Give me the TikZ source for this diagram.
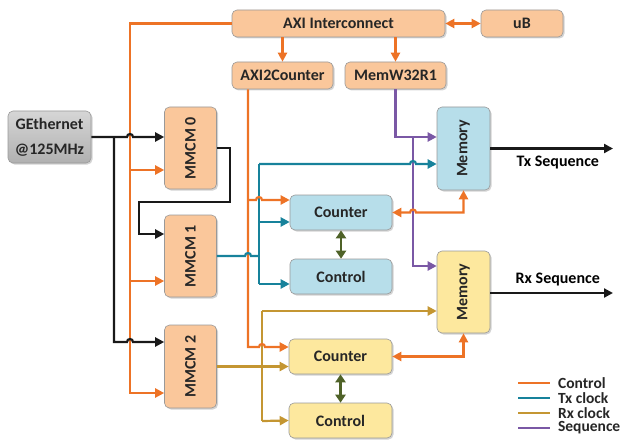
\documentclass[tikz,border=0pt]{standalone}
\usepackage{fontspec}
\setmainfont{Carlito}
\usetikzlibrary{arrows.meta,shadows}

\definecolor{ctrlc}{RGB}{237,115,38}
\definecolor{txc}{RGB}{23,130,155}
\definecolor{rxc}{RGB}{196,150,50}
\definecolor{seqc}{RGB}{122,88,165}
\definecolor{linkc}{RGB}{79,98,40}
\definecolor{peachc}{RGB}{250,199,155}
\definecolor{bluec}{RGB}{183,222,234}
\definecolor{yellowc}{RGB}{253,232,158}
\definecolor{greyc}{RGB}{196,196,196}
\definecolor{textc}{RGB}{38,38,38}

\def\ux{1pt}
\def\uy{-1pt}

\tikzset{
  box/.style={draw=black!40, line width=0.6pt, rounded corners=5pt, inner sep=0pt,
    text=textc, drop shadow={shadow xshift=1.5pt,shadow yshift=-1.5pt,opacity=0.35}},
  peach/.style={box, fill=peachc},
  bluebox/.style={box, fill=bluec},
  yellowbox/.style={box, fill=yellowc},
  greybox/.style={box, top color=greyc!70, bottom color=greyc!90!black, align=center,
    font=\bfseries\fontsize{16}{25}\selectfont},
  bridge/.style={insert path={arc[start angle=180,end angle=0,radius=3pt]}},
  blk/.style={draw=black!90},
  ctrl/.style={draw=ctrlc},
  tx/.style={draw=txc},
  rx/.style={draw=rxc},
  seq/.style={draw=seqc},
  link/.style={draw=linkc, >={Triangle[length=8pt,width=10pt]}},
  legend/.style={anchor=west, inner sep=0pt, text=textc, font=\bfseries\fontsize{15.5}{15}\selectfont}
}

\begin{document}
\begin{tikzpicture}[x=\ux,y=\uy, font=\bfseries\fontsize{16}{18}\selectfont,
    line width=2.2pt, >={Triangle[length=9pt,width=9pt]}]
  \useasboundingbox (0,0) rectangle (623,441);

  \node[peach, minimum width=213pt, minimum height=27pt] (axi) at (338.5,23.5) {AXI Interconnect};
  \node[peach, minimum width=82pt, minimum height=27pt] (ub) at (522,23.5) {uB};
  \node[peach, minimum width=101pt, minimum height=27pt] (a2c) at (282.5,75.5) {AXI2Counter};
  \node[peach, minimum width=101pt, minimum height=27pt] (mem32) at (395.5,75.5) {MemW32R1};
  \node[greybox, minimum width=83pt, minimum height=52pt] (geth) at (49.5,137) {GEthernet\\@125MHz};
  \node[peach, minimum width=52pt, minimum height=82pt] (mmcm0) at (190.5,148) {\rotatebox{90}{MMCM 0}};
  \node[peach, minimum width=52pt, minimum height=82pt] (mmcm1) at (190.5,256) {\rotatebox{90}{MMCM 1}};
  \node[peach, minimum width=52pt, minimum height=83pt] (mmcm2) at (190.5,366.5) {\rotatebox{90}{MMCM 2}};
  \node[bluebox, minimum width=53pt, minimum height=83pt] (memtx) at (463.5,148.5) {\rotatebox{90}{Memory}};
  \node[yellowbox, minimum width=53pt, minimum height=82pt] (memrx) at (463.5,292) {\rotatebox{90}{Memory}};
  \node[bluebox, minimum width=102pt, minimum height=35pt] (cnttx) at (341,212.5) {Counter};
  \node[bluebox, minimum width=102pt, minimum height=35pt] (ctltx) at (341,276.5) {Control};
  \node[yellowbox, minimum width=103pt, minimum height=35pt] (cntrx) at (340.5,356.5) {Counter};
  \node[yellowbox, minimum width=103pt, minimum height=35pt] (ctlrx) at (340.5,420.5) {Control};

  \coordinate (trunk) at (130,393);
  \coordinate (txout) at (613,148.5);
  \coordinate (rxout) at (613,293);

  \draw[ctrl,->] (axi.west) -| (trunk) -- (trunk -| mmcm2.west);
  \draw[ctrl,->] (130,170) -- (0,170 -| mmcm0.west);
  \draw[ctrl,->] (130,281) -- (0,281 -| mmcm1.west);
  \draw[ctrl,->] (axi.south -| a2c.north) -- (a2c.north);
  \draw[ctrl,->] (axi.south -| mem32.north) -- (mem32.north);
  \draw[ctrl,<->] (axi.east) -- (ub.west);

  \draw[tx] (259,164) -- (259,284);
  \draw[rx] (262,311) -- (262,421);
  \draw[seq,->] (mem32.south) |- (0,137 -| memtx.west);
  \draw[seq,->] (413,137) |- (0,266 -| memrx.west);

  \draw[blk,->] (geth.east) -- (127,137) [bridge] -- (0,137 -| mmcm0.west);
  \draw[blk,->] (114,137) -- (114,342) -- (127,342) [bridge] -- (0,342 -| mmcm2.west);
  \draw[blk,->] (mmcm0.east) -| (230,202) -| (139,234) -- (0,234 -| mmcm1.west);

  \draw[ctrl,->] (a2c.south -| 248,0) -- (248,347) -- (259,347) [bridge] -- (0,347 -| cntrx.west);
  \draw[ctrl,->] (248,200) -- (256,200) [bridge] -- (0,200 -| cnttx.west);
  \draw[ctrl,<->] (cnttx.east) -- (410,212.5) [bridge] -| (memtx.south);
  \draw[ctrl,<->] (cntrx.east) -| (memrx.south);

  \draw[tx] (mmcm1.east) -- (245,256) [bridge] -- (259,256);
  \draw[tx,->] (259,164) -- (410,164) [bridge] -- (0,164 -| memtx.west);
  \draw[tx,->] (259,222) -- (0,222 -| cnttx.west);
  \draw[tx,->] (259,284) -- (0,284 -| ctltx.west);

  \draw[rx,->] (mmcm2.east) -- (mmcm2.east -| cntrx.west);
  \draw[rx,->] (262,311) -- (0,311 -| memrx.west);
  \draw[rx,->] (262,421) -- (ctlrx.west);

  \draw[link,<->] (cnttx.south) -- (ctltx.north);
  \draw[link,<->] (cntrx.south) -- (ctlrx.north);

  \draw[blk,->] (memtx.east) -- node[pos=0.55, below=3pt] {Tx Sequence} (txout);
  \draw[blk,->] (0,293 -| memrx.east) -- node[pos=0.55, above=3pt] {Rx Sequence} (rxout);

  \draw[ctrl] (518,383) -- (550,383) node[legend, right=7pt] {Control};
  \draw[tx] (518,398) -- (550,398) node[legend, right=7pt] {Tx clock};
  \draw[rx] (518,413) -- (550,413) node[legend, right=7pt] {Rx clock};
  \draw[seq] (518,428) -- (550,428) node[legend, right=7pt] {Sequence};
\end{tikzpicture}
\end{document}
